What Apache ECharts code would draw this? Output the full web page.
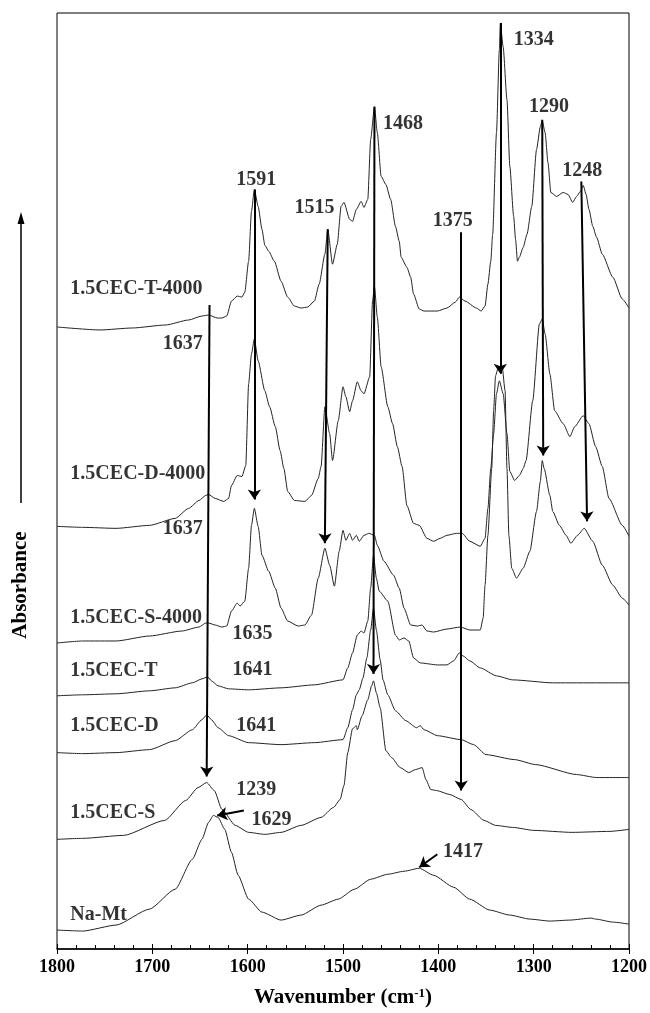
<!DOCTYPE html>
<html>
<head>
<meta charset="utf-8">
<script src="https://cdn.jsdelivr.net/npm/echarts@6/dist/echarts.min.js"></script>
<style>
  html, body { margin: 0; padding: 0; background: #fff; }
  #chart { width: 650px; height: 1013px; }
</style>
</head>
<body>
<div id="chart"></div>
<script>
// FTIR spectra, stacked: [wavenumber (cm-1), absorbance with offset (a.u.)]
const t4000 = [[1800,624],[1755,621],[1721,623],[1686,626],[1662,631],[1648,635],[1641,636],[1632,633],[1627,633],[1622,635],[1617,650],[1611,655],[1606,654],[1603,659],[1599,690],[1596,740],[1593,762],[1589,745],[1585,722],[1582,706],[1578,700],[1572,690],[1565,670],[1558,654],[1551,645],[1544,643],[1537,644],[1530,650],[1525,667],[1519,697],[1516,722],[1511,687],[1506,707],[1502,745],[1499,749],[1493,732],[1490,730],[1486,742],[1481,750],[1478,744],[1474,752],[1471,812],[1467,845],[1464,819],[1460,775],[1455,767],[1450,752],[1445,725],[1441,710],[1439,694],[1433,684],[1429,674],[1426,657],[1420,642],[1415,640],[1401,640],[1391,643],[1382,649],[1378,654],[1372,650],[1360,643],[1355,640],[1351,645],[1348,667],[1345,690],[1343,717],[1339,819],[1336,902],[1335,929],[1332,905],[1328,852],[1325,785],[1321,735],[1319,712],[1317,690],[1315,694],[1311,704],[1307,717],[1302,745],[1297,802],[1293,825],[1291,831],[1288,819],[1285,789],[1282,759],[1276,755],[1269,759],[1264,757],[1259,749],[1255,755],[1251,760],[1248,766],[1245,757],[1242,742],[1238,725],[1234,714],[1228,697],[1217,674],[1207,652],[1200,643]];

const d4000 = [[1800,424],[1773,423],[1738,422],[1703,425],[1676,432],[1662,442],[1651,450],[1644,455],[1641,456],[1634,452],[1625,449],[1620,452],[1617,465],[1611,475],[1606,474],[1602,485],[1599,567],[1596,597],[1593,612],[1589,590],[1582,560],[1577,544],[1571,524],[1566,500],[1562,482],[1558,459],[1551,450],[1540,449],[1533,455],[1526,472],[1523,484],[1519,544],[1514,517],[1511,490],[1505,530],[1500,564],[1497,554],[1493,539],[1490,550],[1485,569],[1481,560],[1478,557],[1472,574],[1469,650],[1467,665],[1464,634],[1460,584],[1453,544],[1448,527],[1443,504],[1438,484],[1433,445],[1426,427],[1420,425],[1412,412],[1405,409],[1398,412],[1391,415],[1381,417],[1375,417],[1367,409],[1356,404],[1351,412],[1348,442],[1345,482],[1342,517],[1339,557],[1336,570],[1332,557],[1328,517],[1325,479],[1320,470],[1315,475],[1311,482],[1308,490],[1301,550],[1294,627],[1291,632],[1288,617],[1283,577],[1278,540],[1269,527],[1262,514],[1257,524],[1248,535],[1242,527],[1235,504],[1228,484],[1221,452],[1207,425],[1200,414]];

const s4000 = [[1800,307],[1773,309],[1738,309],[1703,314],[1669,319],[1651,323],[1644,327],[1641,327],[1634,325],[1627,323],[1622,324],[1617,339],[1611,347],[1608,344],[1603,349],[1599,382],[1596,425],[1593,442],[1589,424],[1585,395],[1578,379],[1571,362],[1565,342],[1558,329],[1547,324],[1540,325],[1533,335],[1526,372],[1519,402],[1514,385],[1509,364],[1504,399],[1500,420],[1497,410],[1493,417],[1490,410],[1486,415],[1483,409],[1478,415],[1473,417],[1467,415],[1464,405],[1457,389],[1447,375],[1441,362],[1436,342],[1429,325],[1422,324],[1417,325],[1412,319],[1405,318],[1391,321],[1377,323],[1367,320],[1356,320],[1353,332],[1351,365],[1348,415],[1344,482],[1342,540],[1340,575],[1337,584],[1333,584],[1330,560],[1328,482],[1326,415],[1323,382],[1318,372],[1311,382],[1304,399],[1297,439],[1293,469],[1291,490],[1289,482],[1283,455],[1280,439],[1273,425],[1266,415],[1261,407],[1254,415],[1247,422],[1238,409],[1228,385],[1217,365],[1207,352],[1200,345]];

const t15 = [[1800,254],[1773,255],[1738,256],[1703,259],[1676,262],[1658,267],[1648,271],[1642,273],[1638,269],[1631,264],[1620,261],[1599,260],[1565,262],[1530,265],[1500,270],[1495,282],[1490,297],[1485,315],[1481,319],[1478,317],[1474,329],[1471,362],[1468,395],[1465,372],[1462,359],[1453,349],[1445,315],[1441,310],[1436,312],[1431,309],[1426,292],[1419,287],[1401,285],[1391,285],[1384,289],[1378,297],[1374,294],[1367,289],[1356,282],[1339,274],[1322,270],[1280,267],[1200,267]];

const d15 = [[1800,197],[1773,196],[1738,197],[1703,200],[1676,209],[1658,220],[1648,230],[1643,235],[1638,230],[1631,222],[1620,214],[1599,207],[1565,205],[1530,207],[1500,210],[1495,222],[1490,240],[1486,255],[1483,260],[1479,272],[1475,292],[1471,320],[1468,342],[1465,320],[1461,290],[1458,270],[1453,255],[1445,239],[1434,229],[1423,222],[1419,224],[1415,220],[1401,214],[1376,210],[1363,205],[1350,195],[1320,190],[1298,185],[1255,175],[1234,172],[1200,172]];

const s15 = [[1800,110],[1773,111],[1730,114],[1687,129],[1665,149],[1652,162],[1643,167],[1635,159],[1627,140],[1613,124],[1599,117],[1582,115],[1565,117],[1544,124],[1523,132],[1510,142],[1503,150],[1499,164],[1495,197],[1490,221],[1486,224],[1485,220],[1480,234],[1474,250],[1470,264],[1468,269],[1465,257],[1461,242],[1455,199],[1449,192],[1440,182],[1431,177],[1424,180],[1417,182],[1413,170],[1408,160],[1402,159],[1388,155],[1376,150],[1366,140],[1352,129],[1340,124],[1322,122],[1300,119],[1260,117],[1220,118],[1200,120]];

const naMt = [[1800,19],[1773,18],[1738,24],[1703,40],[1676,60],[1658,90],[1648,110],[1641,127],[1636,134],[1631,132],[1624,120],[1617,97],[1610,74],[1599,50],[1585,37],[1565,29],[1544,34],[1523,44],[1505,50],[1488,60],[1471,70],[1453,75],[1436,78],[1420,81],[1405,74],[1384,62],[1367,50],[1346,39],[1325,34],[1304,30],[1283,28],[1262,29],[1240,31],[1235,30],[1217,27],[1200,25]];

// sample names, left-anchored: [name, wavenumber, level]
const sampleNames = [['1.5CEC-T-4000',1786,662],['1.5CEC-D-4000',1786,477],['1.5CEC-S-4000',1786,332],['1.5CEC-T',1786,279],['1.5CEC-D',1786,224],['1.5CEC-S',1786,137],['Na-Mt',1786,34]];

// band labels, centred: [text, wavenumber, level]
const bandLabels = [['1591',1591,772],['1515',1530,744],['1468',1437,828],['1375',1385,731],['1334',1300,912],['1290',1284,845],['1248',1249,781],['1637',1668,607],['1637',1668,422],['1635',1595,316],['1641',1595,280],['1641',1591,224],['1239',1591,160],['1629',1575,130],['1417',1374,97]];

// band pointers: [start, arrow tip]
const pointers = [[[1640,646],[1643,173]],[[1593,762],[1593,451]],[[1516,722],[1519,407]],[[1467,845],[1468,276]],[[1376,719],[1376,159]],[[1335,929],[1335,577]],[[1291,832],[1290,495]],[[1250,770],[1244,429]],[[1401,95],[1420,82]],[[1604,139],[1632,134]]];

const spectra = [['1.5CEC-T-4000',t4000],['1.5CEC-D-4000',d4000],['1.5CEC-S-4000',s4000],['1.5CEC-T',t15],['1.5CEC-D',d15],['1.5CEC-S',s15],['Na-Mt',naMt]];

const FONT = '"Liberation Serif", "Times New Roman", serif';
const chart = echarts.init(document.getElementById('chart'));

const option = {
  animation: false,
  grid: { left: 57, right: 17, top: 13, bottom: 61, show: true, borderColor: '#000', borderWidth: 1 },
  xAxis: [
    {
      type: 'value', min: 1200, max: 1800, interval: 100, inverse: true, position: 'bottom',
      axisLine: { lineStyle: { color: '#000', width: 1.5 } },
      axisTick: { inside: true, length: 5, lineStyle: { color: '#000' } },
      minorTick: { show: true, splitNumber: 5, length: 4, lineStyle: { color: '#000' } },
      splitLine: { show: false },
      axisLabel: { color: '#000', fontFamily: FONT, fontWeight: 'bold', fontSize: 18, margin: 9, formatter: v => String(v) },
      name: 'Wavenumber (cm{sup|-1})',
      nameLocation: 'middle',
      nameGap: 38,
      nameTextStyle: {
        color: '#000', fontFamily: FONT, fontWeight: 'bold', fontSize: 21,
        rich: { sup: { fontFamily: FONT, fontWeight: 'bold', fontSize: 13, verticalAlign: 'top', color: '#000' } }
      }
    },
    {
      type: 'value', min: 1200, max: 1800, interval: 100, inverse: true, position: 'bottom',
      axisLine: { show: false },
      axisTick: { inside: false, length: 5, lineStyle: { color: '#000' } },
      axisLabel: { show: false },
      splitLine: { show: false }
    }
  ],
  yAxis: { type: 'value', min: 0, max: 939, show: false },
  graphic: [
    { type: 'text', x: 21, y: 585, rotation: Math.PI / 2,
      style: { text: 'Absorbance', font: 'bold 21px "Liberation Serif"', fill: '#000', align: 'center', verticalAlign: 'middle' } },
    { type: 'line', shape: { x1: 21, y1: 503, x2: 21, y2: 222 }, style: { stroke: '#000', lineWidth: 1.5 } },
    { type: 'polygon', shape: { points: [[21, 212], [17.5, 224], [24.5, 224]] }, style: { fill: '#000' } }
  ],
  series: [
    ...spectra.map(([name, data]) => ({
      name, type: 'line', data, symbol: 'none', silent: true, z: 2,
      smooth: 0.2, smoothMonotone: 'x',
      lineStyle: { color: '#222', width: 1 }
    })),
    {
      type: 'lines', coordinateSystem: 'cartesian2d', silent: true, z: 3,
      symbol: ['none', 'arrow'], symbolSize: [1, 10],
      lineStyle: { color: '#000', width: 2, opacity: 1, curveness: 0 },
      data: pointers.map(p => ({ coords: p }))
    },
    {
      type: 'scatter', symbolSize: 0, silent: true, z: 4,
      data: bandLabels.map(([t, x, y]) => ({ name: t, value: [x, y] })),
      label: { show: true, position: 'inside', formatter: '{b}', color: '#000', fontFamily: FONT, fontWeight: 'bold', fontSize: 20 }
    },
    {
      type: 'scatter', symbolSize: 0, silent: true, z: 4,
      data: sampleNames.map(([t, x, y]) => ({ name: t, value: [x, y] })),
      label: { show: true, position: 'right', distance: 0, formatter: '{b}', color: '#000', fontFamily: FONT, fontWeight: 'bold', fontSize: 20 }
    }
  ]
};

chart.setOption(option);
</script>
</body>
</html>
